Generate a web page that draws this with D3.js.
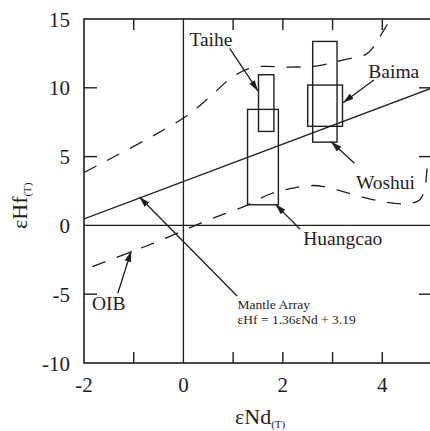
<!DOCTYPE html>
<html>
<head>
<meta charset="utf-8">
<script src="https://cdn.jsdelivr.net/npm/d3@7"></script>
<style>
  body { margin: 0; background: #fff; }
</style>
</head>
<body>
<div id="chart"></div>
<script>
// Sample boxes: eNd range and eHf range
var boxNames = ["Taihe", "Huangcao", "Woshui", "Baima"];
var boxNd = [[1.51, 1.82], [1.29, 1.91], [2.6, 3.09], [2.5, 3.2]];
var boxHf = [[6.83, 10.95], [1.5, 8.43], [6.05, 13.37], [7.2, 10.2]];

// dashed envelope curves
var upperCurve = [[-2, 3.85], [0, 7.8], [0.52, 9.3], [0.97, 10.75], [1.39, 11.5], [1.69, 11.55],
  [2.09, 11.5], [2.7, 11.6], [3.26, 12.06], [3.68, 12.45], [3.86, 13.15], [4.0, 14.0],
  [4.2, 15.0], [4.5, 15.3], [5, 15.3]];
var lowerCurve = [[-1.83, -3.0], [-1.03, -1.89], [-0.46, -1.09], [0.08, -0.24], [0.62, 0.56],
  [1.19, 1.33], [1.76, 2.3], [2.17, 2.69], [2.6, 2.9], [2.88, 2.78], [3.3, 2.36], [3.88, 1.82],
  [4.25, 1.6], [4.55, 1.6], [4.75, 1.85], [4.85, 2.6], [4.91, 4.75]];

// Mantle array: eHf = 1.36 eNd + 3.19
var mantleSlope = 1.36, mantleIntercept = 3.19;

// labels: text, x, y (data coords)
var labelText = ["Taihe", "Baima", "Woshui", "Huangcao", "OIB"];
var labelPos = [[0.12, 13.06], [3.72, 10.69], [3.47, 2.62], [2.41, -1.42], [-1.84, -6.15]];
// arrows: [tail, tip]
var arrows = [
  [[0.93, 12.87], [1.50, 9.77]],
  [[3.83, 10.57], [3.21, 8.92]],
  [[3.44, 4.51], [2.97, 6.08]],
  [[2.35, -0.28], [1.85, 1.53]],
  [[-1.32, -4.93], [-1.05, -1.86]],
  [[1.08, -5.13], [-0.885, 2.06]]
];
var mantleLabel = ["Mantle Array", "\u03b5Hf = 1.36\u03b5Nd + 3.19"];
var mantleLabelPos = [1.09, -6.11];

var xTicks = [-2, -1, 0, 1, 2, 3, 4, 5];
var xTickLabels = [-2, 0, 2, 4];
var yTicks = [-10, -5, 0, 5, 10, 15];

var W = 430, H = 431;
var pL = 84, pR = 432, pT = 19, pB = 363;

var x = d3.scaleLinear().domain([-2, 5]).range([pL, pR]);
var y = d3.scaleLinear().domain([-10, 15]).range([pB, pT]);

var ink = "#1e1e1e";
var svg = d3.select("#chart").append("svg").attr("width", W).attr("height", H)
  .attr("font-family", "Liberation Serif")
  .attr("fill", ink);

var defs = svg.append("defs");
defs.append("clipPath").attr("id", "plot")
  .append("rect").attr("x", pL).attr("y", pT).attr("width", pR - pL).attr("height", pB - pT);

defs.append("marker").attr("id", "head")
  .attr("viewBox", "0 0 10 6").attr("refX", 10).attr("refY", 3)
  .attr("markerWidth", 11).attr("markerHeight", 6.5).attr("markerUnits", "userSpaceOnUse")
  .attr("orient", "auto")
  .append("path").attr("d", "M0,0L10,3L0,6Z").attr("fill", ink);

var g = svg.append("g").attr("clip-path", "url(#plot)");

// zero lines
g.append("line").attr("x1", x(0)).attr("x2", x(0)).attr("y1", pT).attr("y2", pB)
  .attr("stroke", ink).attr("stroke-width", 1.3);
g.append("line").attr("x1", pL).attr("x2", pR).attr("y1", y(0)).attr("y2", y(0))
  .attr("stroke", ink).attr("stroke-width", 1.3);

// mantle array
g.append("line")
  .attr("x1", x(-2)).attr("y1", y(mantleSlope * -2 + mantleIntercept))
  .attr("x2", x(5)).attr("y2", y(mantleSlope * 5 + mantleIntercept))
  .attr("stroke", ink).attr("stroke-width", 1.3);

// dashed curves
var line = d3.line().x(function(d) { return x(d[0]); }).y(function(d) { return y(d[1]); })
  .curve(d3.curveCatmullRom.alpha(0.5));
[upperCurve, lowerCurve].forEach(function(c) {
  g.append("path").attr("d", line(c)).attr("fill", "none")
    .attr("stroke", ink).attr("stroke-width", 1.3).attr("stroke-dasharray", "14,12");
});

// boxes
boxNames.forEach(function(n, i) {
  g.append("rect")
    .attr("x", x(boxNd[i][0])).attr("y", y(boxHf[i][1]))
    .attr("width", x(boxNd[i][1]) - x(boxNd[i][0]))
    .attr("height", y(boxHf[i][0]) - y(boxHf[i][1]))
    .attr("fill", "none").attr("stroke", ink).attr("stroke-width", 1.4);
});

// frame
svg.append("rect").attr("x", pL).attr("y", pT).attr("width", pR - pL).attr("height", pB - pT)
  .attr("fill", "none").attr("stroke", ink).attr("stroke-width", 1.6);

// ticks (inward)
xTicks.forEach(function(t) {
  if (t === -2 || t === 0 || t === 5) return;
  svg.append("line").attr("x1", x(t)).attr("x2", x(t)).attr("y1", pB).attr("y2", pB - 11)
    .attr("stroke", ink).attr("stroke-width", 1.4);
  svg.append("line").attr("x1", x(t)).attr("x2", x(t)).attr("y1", pT).attr("y2", pT + 11)
    .attr("stroke", ink).attr("stroke-width", 1.4);
});
yTicks.forEach(function(t) {
  if (t === -10 || t === 0 || t === 15) return;
  svg.append("line").attr("x1", pL).attr("x2", pL + 13).attr("y1", y(t)).attr("y2", y(t))
    .attr("stroke", ink).attr("stroke-width", 1.4);
  svg.append("line").attr("x1", pR).attr("x2", pR - 13).attr("y1", y(t)).attr("y2", y(t))
    .attr("stroke", ink).attr("stroke-width", 1.4);
});

// tick labels
xTickLabels.forEach(function(t) {
  svg.append("text").attr("x", x(t)).attr("y", 392).attr("text-anchor", "middle")
    .attr("font-size", 21).text(t);
});
yTicks.forEach(function(t) {
  svg.append("text").attr("x", 70).attr("y", y(t) + 7.5).attr("text-anchor", "end")
    .attr("font-size", 21).text(t);
});

// axis titles
var xt = svg.append("text").attr("x", 235).attr("y", 424).attr("font-size", 22);
xt.append("tspan").text("\u03b5Nd");
xt.append("tspan").attr("font-size", 11).attr("dy", 4).text("(T)");

var yt = svg.append("text").attr("transform", "translate(27,229) rotate(-90)").attr("font-size", 22);
yt.append("tspan").text("\u03b5Hf");
yt.append("tspan").attr("font-size", 11).attr("dy", 4).text("(T)");

// arrows
arrows.forEach(function(a) {
  svg.append("line")
    .attr("x1", x(a[0][0])).attr("y1", y(a[0][1]))
    .attr("x2", x(a[1][0])).attr("y2", y(a[1][1]))
    .attr("stroke", ink).attr("stroke-width", 1.3).attr("marker-end", "url(#head)");
});

// labels
labelText.forEach(function(t, i) {
  svg.append("text").attr("x", x(labelPos[i][0])).attr("y", y(labelPos[i][1]))
    .attr("font-size", 19.5).text(t);
});
mantleLabel.forEach(function(t, i) {
  svg.append("text").attr("x", x(mantleLabelPos[0])).attr("y", y(mantleLabelPos[1]) + i * 15)
    .attr("font-size", 13.5).text(t);
});
</script>
</body>
</html>
